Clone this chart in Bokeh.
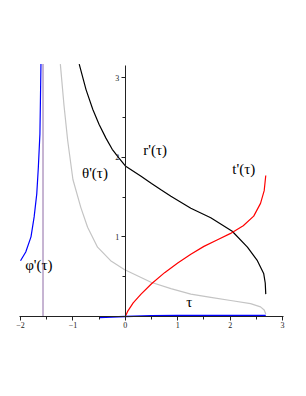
from bokeh.plotting import figure
from bokeh.models import Range1d, LinearAxis, FixedTicker, Label
from bokeh.embed import file_html
from bokeh.resources import INLINE

# phi'(tau) - blue
phi_x = [-2.0, -1.90, -1.80, -1.74, -1.69, -1.66, -1.63, -1.62, -1.61]
phi_y = [0.70, 0.81, 1.00, 1.25, 1.54, 1.87, 2.29, 2.71, 3.17]
# asymptote line (purple) at -pi/2
asym_x = [-1.5708, -1.5708]
asym_y = [0.0, 3.17]
# theta'(tau) - gray
th_x = [-1.24, -1.17, -1.10, -1.00, -0.85, -0.72, -0.53, -0.28, -0.02, 0.30, 0.49, 0.87, 1.25, 1.63, 2.01, 2.39, 2.58, 2.65, 2.68]
th_y = [3.17, 2.65, 2.21, 1.72, 1.37, 1.12, 0.87, 0.70, 0.59, 0.49, 0.43, 0.35, 0.28, 0.24, 0.20, 0.16, 0.12, 0.08, 0.03]
# r'(tau) - black
r_x = [-0.88, -0.75, -0.62, -0.50, -0.37, -0.25, -0.12, 0.0, 0.30, 0.50, 0.68, 0.87, 1.25, 1.63, 2.04, 2.33, 2.52, 2.64, 2.67, 2.68]
r_y = [3.17, 2.85, 2.60, 2.41, 2.24, 2.10, 1.99, 1.89, 1.76, 1.67, 1.59, 1.51, 1.36, 1.24, 1.07, 0.87, 0.70, 0.54, 0.42, 0.28]
# t'(tau) - red
t_x = [0.0, 0.05, 0.15, 0.30, 0.50, 0.75, 1.00, 1.25, 1.50, 1.75, 2.00, 2.25, 2.45, 2.58, 2.65, 2.68]
t_y = [0.0, 0.07, 0.17, 0.28, 0.41, 0.55, 0.67, 0.78, 0.88, 0.96, 1.04, 1.14, 1.26, 1.42, 1.58, 1.77]
# tau - blue, near zero
tau_x = [-0.50, -0.25, 0.0, 0.5, 1.0, 1.5, 2.0, 2.5, 2.68]
tau_y = [-0.015, -0.008, 0.0, 0.01, 0.012, 0.012, 0.012, 0.012, 0.012]

x_ticks = [-2, -1, 0, 1, 2, 3]
x_minor = [-1.5, -0.5, 0.5, 1.5, 2.5]
y_ticks = [1, 2, 3]
y_minor = [0.5, 1.5, 2.5]

x0, x1 = -2.382, 3.152
y0, y1 = -0.805, 3.969

p = figure(width=290, height=380, x_range=Range1d(x0, x1), y_range=Range1d(y0, y1),
           output_backend="svg", toolbar_location=None, min_border=0,
           x_axis_type=None, y_axis_type=None)
p.outline_line_color = None
p.xgrid.visible = False
p.ygrid.visible = False

def style_axis(ax):
    ax.axis_line_color = "#222222"
    ax.axis_line_width = 1
    ax.major_tick_line_color = "#222222"
    ax.minor_tick_line_color = "#222222"
    ax.major_tick_out = 4
    ax.major_tick_in = 0
    ax.minor_tick_out = 3
    ax.minor_tick_in = 0
    ax.major_label_text_font = "Liberation Serif"
    ax.major_label_text_font_size = "8px"
    ax.major_label_text_color = "#222222"
    ax.major_label_standoff = 2

xa = LinearAxis(fixed_location=0, ticker=FixedTicker(ticks=x_ticks, minor_ticks=x_minor), bounds=(-2.02, 3.02))
style_axis(xa)
p.add_layout(xa, "below")
ya = LinearAxis(fixed_location=0, ticker=FixedTicker(ticks=y_ticks, minor_ticks=y_minor), bounds=(0, 3.15))
style_axis(ya)
p.add_layout(ya, "left")

p.line(asym_x, asym_y, line_color="#b49cc4", line_width=1.5)
p.line(th_x, th_y, line_color="#c4c4c4", line_width=1.2)
p.line(r_x, r_y, line_color="#000000", line_width=1.2)
p.line(t_x, t_y, line_color="#ff0000", line_width=1.2)
p.line(phi_x, phi_y, line_color="#0000ff", line_width=1.2)
p.line(tau_x, tau_y, line_color="#0000ff", line_width=1.5)

def lab(x, y, s):
    p.add_layout(Label(x=x, y=y, text=s, text_font="Liberation Serif", text_font_size="15px",
                       text_color="#000000", text_align="center", text_baseline="middle"))

lab(0.57, 2.09, "r'(τ)")
lab(-0.58, 1.80, "θ'(τ)")
lab(2.26, 1.85, "t'(τ)")
lab(-1.65, 0.64, "φ'(τ)")
lab(1.22, 0.18, "τ")

open("out.html", "w").write(file_html(p, INLINE))
